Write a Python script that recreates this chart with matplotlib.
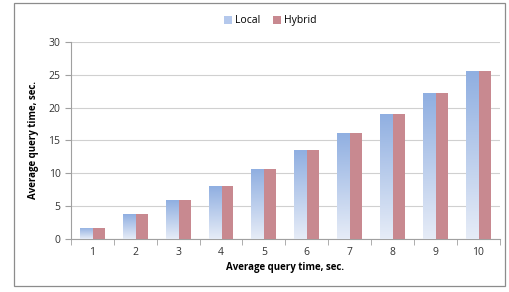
import numpy as np
import matplotlib
matplotlib.use("Agg")
import matplotlib.pyplot as plt
from matplotlib.patches import Rectangle
from matplotlib.colors import LinearSegmentedColormap

# werte
categories = ["1", "2", "3", "4", "5", "6", "7", "8", "9", "10"]
local = [1.7, 3.8, 5.9, 8.0, 10.6, 13.5, 16.2, 19.1, 22.2, 25.6]
hybrid = [1.7, 3.8, 5.9, 8.0, 10.6, 13.5, 16.2, 19.1, 22.3, 25.6]

plt.rcParams['font.family'] = ['Open Sans', 'DejaVu Sans']

fig = plt.figure(figsize=(5.1, 2.92), dpi=100)
fig.patches.append(Rectangle((0.027, 0.02), 0.963, 0.97, transform=fig.transFigure,
                             fill=False, edgecolor="#8c8c8c", linewidth=0.9))
ax = fig.add_axes([0.139, 0.182, 0.841, 0.674])

x = np.arange(len(categories))
w = 0.29
cmap = LinearSegmentedColormap.from_list("blau", ["#e6ecf7", "#90afe1"])
grad = np.linspace(0, 1, 100).reshape(-1, 1)

bars_local = ax.bar(x - w / 2, local, w, color="none", linewidth=0, zorder=3)
ax.bar(x + w / 2, hybrid, w, color="#c88990", linewidth=0, zorder=3)

# verlauf in die lokal-balken legen
for i, b in enumerate(bars_local):
    im = ax.imshow(grad, cmap=cmap, origin="lower", aspect="auto",
                   extent=(x[i] - w, x[i], 0, local[i]), zorder=3)
    im.set_clip_path(b)

ax.bar(0, 0, 0, color="#b4c8ec", label="Local")
ax.bar(0, 0, 0, color="#c88990", label="Hybrid")

ax.set_xlim(-0.5, len(x) - 0.5)
ax.set_ylim(0, 30)
ax.set_yticks([0, 5, 10, 15, 20, 25, 30])
ax.set_xticks(x)
ax.set_xticklabels(categories)
ax.set_xticks(np.arange(-0.5, len(x)), minor=True)
ax.tick_params(axis="x", which="major", length=0, pad=6, labelsize=7.5, labelcolor="#333333")
ax.tick_params(axis="x", which="minor", length=4, color="#a0a0a0")
ax.tick_params(axis="y", length=4, color="#a0a0a0", labelsize=7.5, labelcolor="#333333")
ax.grid(axis="y", color="#d0d0d0", linewidth=0.8, zorder=0)
for s in ["top", "right"]:
    ax.spines[s].set_visible(False)
ax.spines["left"].set_color("#a0a0a0")
ax.spines["bottom"].set_color("#a0a0a0")

ax.set_xlabel("Average query time, sec.", fontsize=7, fontweight="bold", labelpad=3)
ax.set_ylabel("Average query time, sec.", fontsize=7, fontweight="bold", labelpad=7)

fig.legend(loc="upper center", bbox_to_anchor=(0.53, 0.98), ncol=2, frameon=False,
           fontsize=7.5, handlelength=0.8, handleheight=0.8, handletextpad=0.3,
           columnspacing=1.2)

plt.savefig("out.png", dpi=100)
